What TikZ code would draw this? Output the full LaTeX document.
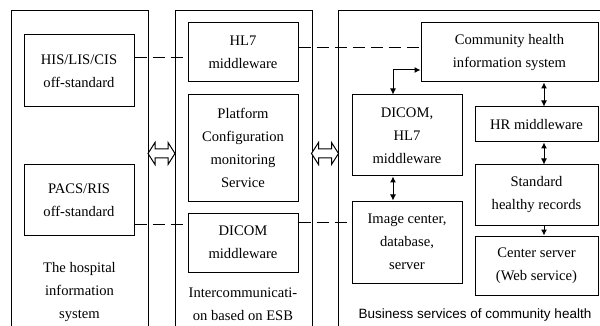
\documentclass[tikz,border=0pt]{standalone}
\usepackage{fontspec}
\setmainfont{Liberation Serif}
\newfontfamily\sansf{Liberation Sans}
\usetikzlibrary{arrows.meta,calc}
\begin{document}
\begin{tikzpicture}[x=1pt,y=-1pt,
  box/.style={draw,line width=1pt,align=center,inner sep=0pt,
    font=\fontsize{14.6}{23}\selectfont},
  lbl/.style={align=center,inner sep=0pt,font=\fontsize{14.6}{23}\selectfont},
  frame/.style={line width=1pt},
  dashline/.style={line width=1pt,dash pattern=on 12pt off 6pt},
  dbl/.style={line width=1pt,{Latex[length=6pt,width=6pt]}-{Latex[length=6pt,width=6pt]}},
  sgl/.style={line width=1pt,-{Latex[length=6pt,width=6pt]}},
  hollow/.style={draw,line width=1pt,fill=white}]
\useasboundingbox (0,0) rectangle (600,326);
% containers
\draw[frame] (11,326) -- (11,11) -- (148,11) -- (148,326);
\draw[frame] (175,326) -- (175,11) -- (312,11) -- (312,326);
\draw[frame] (338,326) -- (338,11) -- (600,11);
% left
\node[box,minimum width=110,minimum height=72] (his) at (79,71) {HIS/LIS/CIS\\off-standard};
\node[box,minimum width=110,minimum height=70] (pacs) at (79,200) {PACS/RIS\\off-standard};
\node[lbl] (hosp) at (79.5,292) {The hospital\\information\\system};
% middle
\node[box,minimum width=110,minimum height=59] (hl7) at (243,52.5) {HL7\\middleware};
\node[box,minimum width=110,minimum height=106] (plat) at (243,148) {Platform\\Configuration\\monitoring\\Service};
\node[box,minimum width=110,minimum height=59] (dicm) at (243,242.5) {DICOM\\middleware};
\node[lbl] (esb) at (243,304.5) {Intercommunicati-\\on based on ESB};
% right
\node[box,minimum width=177,minimum height=59] (chis) at (509.5,52.5) {Community health\\information system};
\node[box,minimum width=110,minimum height=81] (dh) at (407,135.5) {DICOM,\\HL7\\middleware};
\node[box,minimum width=110,minimum height=82] (img) at (407,242) {Image center,\\database,\\server};
\node[box,minimum width=123,minimum height=35] (hr) at (536.5,124.5) {HR middleware};
\node[box,minimum width=123,minimum height=60] (std) at (536.5,195) {Standard\\healthy records};
\node[box,minimum width=123,minimum height=59] (ctr) at (536.5,265.5) {Center server\\(Web service)};
\node[inner sep=0pt,font=\sansf\fontsize{13.5}{16}\selectfont] (bus) at (475,315) {Business services of community health};
% dashed links
\draw[dashline] ([yshift=13pt]his.east) -- ([yshift=13pt]his.east -| hl7.west);
\draw[dashline] ([yshift=4.5pt]hl7.east) -- ([yshift=4.5pt]hl7.east -| chis.west);
\draw[dashline] ([yshift=-24pt]pacs.east) -- ([yshift=-24pt]pacs.east -| dicm.west);
\draw[dashline] ([yshift=20.5pt]dicm.east) -- ([yshift=20.5pt]dicm.east -| img.west);
% arrows
\coordinate (elb) at (393,70);
\draw[dbl] (elb |- dh.north) -- (elb) -- (elb -| chis.west);
\coordinate (ax) at (544,0);
\draw[dbl] (ax |- chis.south) -- (ax |- hr.north);
\draw[dbl] (ax |- hr.south) -- (ax |- std.north);
\draw[sgl] (ax |- std.south) -- (ax |- ctr.north);
\draw[dbl] (elb |- dh.south) -- (elb |- img.north);
% hollow double arrows
\foreach \cx in {161.5,325} {
  \draw[hollow] (\cx-13.5,153.5) -- (\cx-6.5,142.5) -- (\cx-6.5,149) -- (\cx+6.5,149) -- (\cx+6.5,142.5)
    -- (\cx+13.5,153.5) -- (\cx+6.5,164.5) -- (\cx+6.5,158) -- (\cx-6.5,158) -- (\cx-6.5,164.5) -- cycle;
}
\end{tikzpicture}
\end{document}
